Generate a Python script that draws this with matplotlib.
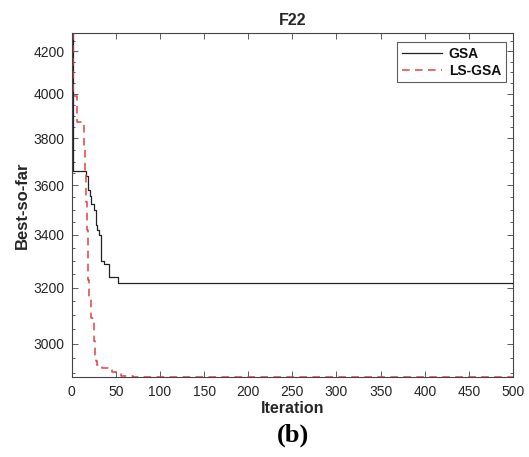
import numpy as np
import matplotlib
matplotlib.use('Agg')
import matplotlib.pyplot as plt
from matplotlib.ticker import FixedLocator, FixedFormatter, NullFormatter

plt.rcParams['font.family'] = ['Liberation Sans', 'DejaVu Sans']

# best-so-far values at the iterations where they change (step curves)
gsa_iter = [0, 1, 16, 18, 19, 21, 22, 25, 27, 29, 31, 33, 37, 42, 53, 500]
gsa_best = [4290, 3660, 3640, 3617, 3580, 3554, 3522, 3500, 3441, 3420, 3400,
            3298, 3290, 3238, 3217, 3215]

lsgsa_iter = [0, 1, 6, 14, 15, 16, 17, 18, 19, 20, 22, 25, 26, 27, 29, 34, 41,
              46, 50, 56, 70, 500]
lsgsa_best = [4290, 3990, 3870, 3760, 3650, 3530, 3420, 3320, 3230, 3160, 3090,
              3010, 2960, 2940, 2928, 2918, 2910, 2905, 2897, 2890, 2888, 2887]

yticks = [3000, 3200, 3400, 3600, 3800, 4000, 4200]
xticks = list(range(0, 501, 50))

fig = plt.figure(figsize=(5.29, 4.57), dpi=100)
ax = fig.add_axes([0.1355, 0.175, 0.9698 - 0.1355, 0.9278 - 0.175])

ax.plot(gsa_iter, gsa_best, color='#222222', lw=0.9, drawstyle='steps-post', label='GSA')
ax.plot(lsgsa_iter, lsgsa_best, color='#e0404a', lw=1.1, ls=(0, (5, 3.5)),
        drawstyle='steps-post', label='LS-GSA')

ax.set_yscale('log')
ax.set_xlim(0, 500)
ax.set_ylim(2887, 4290)

ax.yaxis.set_major_locator(FixedLocator(yticks))
ax.yaxis.set_major_formatter(FixedFormatter([str(v) for v in yticks]))
ax.yaxis.set_minor_locator(FixedLocator(np.arange(2900, 4300, 50)))
ax.yaxis.set_minor_formatter(NullFormatter())
ax.set_xticks(xticks)

gray = '#262626'
for sp in ax.spines.values():
    sp.set_color('#444444')
    sp.set_linewidth(0.8)
ax.tick_params(which='both', direction='in', top=True, right=True,
               colors='#444444', labelcolor=gray, labelsize=10, width=0.6)
ax.tick_params(which='major', length=4)
ax.tick_params(which='minor', length=2.5)
ax.tick_params(axis='x', which='minor', top=False, bottom=False)
ax.tick_params(axis='x', pad=6)
ax.tick_params(axis='y', pad=5)

ax.set_title('F22', fontsize=11.5, fontweight='bold', color=gray, pad=6)
ax.set_xlabel('Iteration', fontsize=11.5, fontweight='bold', color=gray, labelpad=1)
ax.set_ylabel('Best-so-far', fontsize=12, fontweight='bold', color=gray, labelpad=3)

leg = ax.legend(loc='upper right', fontsize=10, frameon=True, fancybox=False,
                handlelength=2.9, borderpad=0.35, labelspacing=0.2, handletextpad=0.5,
                borderaxespad=0, bbox_to_anchor=(0.984, 0.974))
leg.get_frame().set_edgecolor('#333333')
leg.get_frame().set_linewidth(0.8)
for t in leg.get_texts():
    t.set_fontweight('bold')
    t.set_color('#111111')

fig.text(0.553, 0.048, '(b)', fontsize=19, fontweight='bold', ha='center', va='center',
         family=['Liberation Serif', 'DejaVu Serif'])

fig.savefig('out.png', dpi=100)
